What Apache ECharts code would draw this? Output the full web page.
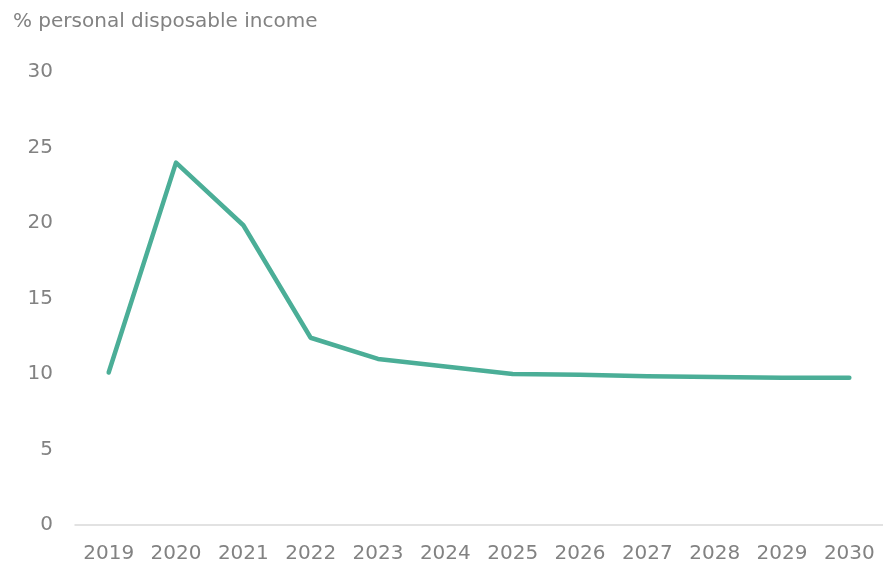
<!DOCTYPE html>
<html>
	<head>
		<meta charset="UTF-8">
		<title>% personal disposable income</title>
		<script type="text/javascript" src="https://cdn.jsdelivr.net/npm/echarts@6/dist/echarts.min.js"></script>
		<style>
			html,body{margin:0;padding:0;background:#fff;}
		</style>
	</head>
	<body>
		<div id="main" style="width: 883px;height: 568px;"></div>
		<script type="text/javascript">
			var years=['2019','2020','2021','2022','2023','2024','2025','2026','2027','2028','2029','2030'];
			var ratio=[10.1,24.0,19.85,12.4,11.0,10.5,10.0,9.95,9.85,9.8,9.75,9.75];
			var yTicks=[0,5,10,15,20,25,30];

			var myChart=echarts.init(document.getElementById('main'));
			var labelFont='"DejaVu Sans", sans-serif';

			var option={
				animation:false,
				title:{
					text:'% personal disposable income',
					left:8,
					top:7,
					textStyle:{color:'#828282',fontSize:20,fontWeight:'normal',fontFamily:labelFont}
				},
				grid:{left:75,top:72,width:811,height:453},
				xAxis:{
					type:'category',
					data:years,
					axisLine:{lineStyle:{color:'#d9d9d9',width:1.5}},
					axisTick:{show:false},
					axisLabel:{color:'#828282',fontSize:20,fontFamily:labelFont,margin:19}
				},
				yAxis:{
					type:'value',
					min:yTicks[0],
					max:yTicks[yTicks.length-1],
					interval:5,
					splitLine:{show:false},
					axisLine:{show:false},
					axisTick:{show:false},
					axisLabel:{color:'#828282',fontSize:20,fontFamily:labelFont,margin:22}
				},
				series:[{
					type:'line',
					data:ratio,
					symbol:'none',
					lineStyle:{color:'#4bae97',width:4.5,cap:'round',join:'round'}
				}]
			};
			myChart.setOption(option);
		</script>
	</body>
</html>
